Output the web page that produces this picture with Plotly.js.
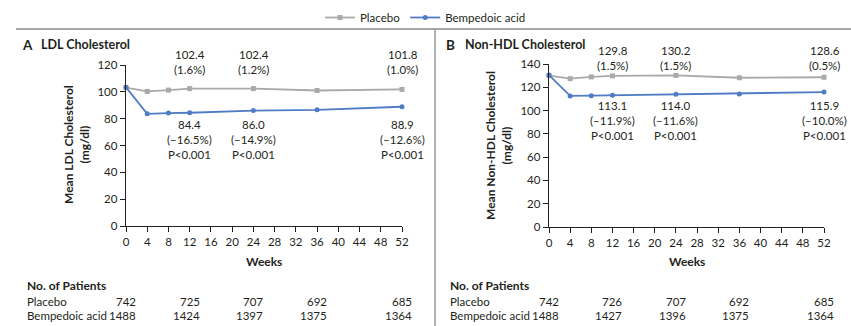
<!DOCTYPE html>
<html>
<head>
<meta charset="utf-8">
<script src="https://cdn.plot.ly/plotly-3.0.1.min.js"></script>
<style>
html,body{margin:0;padding:0;background:#fff;}
#chart{width:851px;height:326px;}
</style>
</head>
<body>
<div id="chart"></div>
<script>
// ---- Data ----
const weeks = [0, 4, 8, 12, 24, 36, 52];
const ldlPlacebo = [103.2, 100.3, 101.3, 102.4, 102.4, 101.0, 101.8];
const ldlBempedoic = [103.4, 83.6, 84.2, 84.4, 86.0, 86.6, 88.9];
const nonHdlPlacebo = [130.0, 127.4, 128.9, 129.8, 130.2, 128.2, 128.6];
const nonHdlBempedoic = [130.5, 112.6, 112.8, 113.1, 114.0, 114.3, 115.9];

const labelWeeks = [12, 24, 52];
const ldlPlaceboPct = ["1.6%", "1.2%", "1.0%"];
const ldlBempedoicPct = ["\u201316.5%", "\u201314.9%", "\u201312.6%"];
const nonHdlPlaceboPct = ["1.5%", "1.5%", "0.5%"];
const nonHdlBempedoicPct = ["\u201311.9%", "\u201311.6%", "\u201310.0%"];
const pValueText = "P<0.001";

const patientWeeks = [0, 12, 24, 36, 52];
const ldlNPlacebo = [742, 725, 707, 692, 685];
const ldlNBempedoic = [1488, 1424, 1397, 1375, 1364];
const nonHdlNPlacebo = [742, 726, 707, 692, 685];
const nonHdlNBempedoic = [1488, 1427, 1396, 1375, 1364];

const xTicks = [0, 4, 8, 12, 16, 20, 24, 28, 32, 36, 40, 44, 48, 52];

// ---- Styling helpers ----
const W = 851, H = 326;
const px = x => x / W;
const py = y => 1 - y / H;
const TXT = '#231f20';
const GRAY = '#a9a9a9';
const BLUE = '#4f7cc4';
const FONT = 'Lato, "Open Sans", sans-serif';

function series(x, y, name, color, symbol, xa, ya, show) {
  return {
    x: x, y: y, name: name, type: 'scatter', mode: 'lines+markers',
    xaxis: xa, yaxis: ya, showlegend: show, cliponaxis: false,
    line: {color: color, width: 1.8},
    marker: {color: color, size: 5, symbol: symbol}
  };
}

const data = [
  series(weeks, ldlPlacebo, 'Placebo', GRAY, 'square', 'x', 'y', true),
  series(weeks, ldlBempedoic, 'Bempedoic acid', BLUE, 'circle', 'x', 'y', true),
  series(weeks, nonHdlPlacebo, 'Placebo', GRAY, 'square', 'x2', 'y2', false),
  series(weeks, nonHdlBempedoic, 'Bempedoic acid', BLUE, 'circle', 'x2', 'y2', false)
];

function axisX(domain) {
  return {
    domain: domain, range: [0, 52], tickvals: xTicks, ticktext: xTicks.map(String),
    showgrid: false, zeroline: false, showline: true, linecolor: TXT, linewidth: 1.3,
    ticks: 'outside', ticklen: 5, tickwidth: 1, tickcolor: TXT,
    tickfont: {family: FONT, size: 11.5, color: TXT}, fixedrange: true
  };
}
function axisY(domain, anchor, max) {
  const tv = [];
  for (let v = 0; v <= max; v += 20) tv.push(v);
  return {
    domain: domain, range: [0, max], tickvals: tv, anchor: anchor,
    showgrid: false, zeroline: false, showline: true, linecolor: TXT, linewidth: 1.3,
    ticks: 'outside', ticklen: 5, tickwidth: 1, tickcolor: TXT,
    tickfont: {family: FONT, size: 11.5, color: TXT}, fixedrange: true
  };
}

const ann = [];
function txt(x, y, text, opts) {
  ann.push(Object.assign({
    x: x, y: y, xref: 'paper', yref: 'paper', text: text, showarrow: false,
    font: {family: FONT, size: 11.5, color: TXT}, xanchor: 'center', yanchor: 'middle'
  }, opts || {}));
}

// Panel titles
txt(px(20), py(45), '<b>A</b>', {xanchor: 'left', font: {family: FONT, size: 13.5, color: TXT}});
txt(px(39), py(45), '<b>LDL Cholesterol</b>', {xanchor: 'left', font: {family: FONT, size: 12.5, color: TXT}});
txt(px(444), py(45), '<b>B</b>', {xanchor: 'left', font: {family: FONT, size: 13.5, color: TXT}});
txt(px(463), py(45), '<b>Non-HDL Cholesterol</b>', {xanchor: 'left', font: {family: FONT, size: 12.5, color: TXT}});

// Y axis titles
txt(px(76), py(145), '<b>Mean LDL Cholesterol</b><br><b>(mg/dl)</b>', {textangle: -90, font: {family: FONT, size: 12, color: TXT}});
txt(px(498), py(145), '<b>Mean Non-HDL Cholesterol</b><br><b>(mg/dl)</b>', {textangle: -90, font: {family: FONT, size: 12, color: TXT}});

// X axis titles
txt(px(264), py(261), '<b>Weeks</b>', {font: {family: FONT, size: 12, color: TXT}});
txt(px(687), py(261), '<b>Weeks</b>', {font: {family: FONT, size: 12, color: TXT}});

// Value labels
function valueLabels(xref, vals, pcts, topY, withP) {
  labelWeeks.forEach((wk, i) => {
    const v = vals[weeks.indexOf(wk)];
    let t = v.toFixed(1) + '<br>(' + pcts[i] + ')';
    if (withP) t += '<br>' + pValueText.replace('<', '&lt;');
    ann.push({
      x: wk, xref: xref, y: py(topY), yref: 'paper', text: t, showarrow: false,
      xanchor: 'center', yanchor: 'top', align: 'center',
      font: {family: FONT, size: 11.5, color: TXT}
    });
  });
}
valueLabels('x', ldlPlacebo, ldlPlaceboPct, 46, false);
valueLabels('x', ldlBempedoic, ldlBempedoicPct, 116, true);
valueLabels('x2', nonHdlPlacebo, nonHdlPlaceboPct, 42, false);
valueLabels('x2', nonHdlBempedoic, nonHdlBempedoicPct, 97, true);

// Number of patients tables
function patients(xref, leftX, nP, nB) {
  txt(px(leftX), py(285), '<b>No. of Patients</b>', {xanchor: 'left', font: {family: FONT, size: 12, color: TXT}});
  txt(px(leftX), py(301), 'Placebo', {xanchor: 'left'});
  txt(px(leftX), py(315), 'Bempedoic acid', {xanchor: 'left'});
  patientWeeks.forEach((wk, i) => {
    ann.push({x: wk, xref: xref, y: py(301), yref: 'paper', text: String(nP[i]), showarrow: false,
      xanchor: 'right', yanchor: 'middle', xshift: 12, font: {family: FONT, size: 11.5, color: TXT}});
    ann.push({x: wk, xref: xref, y: py(315), yref: 'paper', text: String(nB[i]), showarrow: false,
      xanchor: 'right', yanchor: 'middle', xshift: 12, font: {family: FONT, size: 11.5, color: TXT}});
  });
}
patients('x', 25, ldlNPlacebo, ldlNBempedoic);
patients('x2', 448, nonHdlNPlacebo, nonHdlNBempedoic);

const layout = {
  width: W, height: H,
  margin: {l: 0, r: 0, t: 0, b: 0},
  paper_bgcolor: '#fff', plot_bgcolor: 'rgba(0,0,0,0)',
  font: {family: FONT, color: TXT},
  showlegend: true,
  legend: {
    orientation: 'h', x: 0.5, xanchor: 'center', y: py(3), yanchor: 'top',
    font: {family: FONT, size: 11.5, color: TXT}, itemwidth: 30, bgcolor: 'rgba(0,0,0,0)'
  },
  xaxis: axisX([px(126), px(402)]),
  yaxis: axisY([py(226), py(65)], 'x', 120),
  xaxis2: Object.assign(axisX([px(549), px(824)]), {anchor: 'y2'}),
  yaxis2: axisY([py(227), py(64)], 'x2', 140),
  annotations: ann,
  shapes: [
    {type: 'line', xref: 'paper', yref: 'paper', x0: px(16), x1: 1, y0: py(29), y1: py(29),
      line: {color: '#8a8a8a', width: 1.3}},
    {type: 'line', xref: 'paper', yref: 'paper', x0: px(435), x1: px(435), y0: py(29), y1: 0,
      line: {color: '#8a8a8a', width: 1.3}}
  ]
};
Plotly.newPlot('chart', data, layout, {staticPlot: true, displayModeBar: false});
</script>
</body>
</html>
